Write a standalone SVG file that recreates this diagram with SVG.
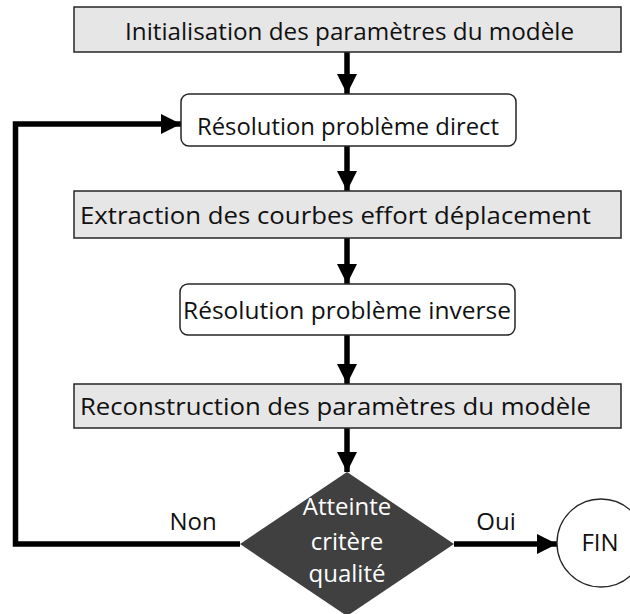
<svg xmlns="http://www.w3.org/2000/svg" width="630" height="614" viewBox="0 0 630 614">
<style>
.box{fill:#e6e6e6;stroke:#262626;stroke-width:1.5}
.rbox{fill:#ffffff;stroke:#262626;stroke-width:1.5}
.t{font-family:"Open Sans","Liberation Sans",sans-serif;font-size:24px;fill:#111;text-anchor:middle}
.w{fill:#ffffff}
.c{fill:none;stroke:#000;stroke-width:5.5}
</style>
<defs>
<marker id="ah" markerUnits="userSpaceOnUse" markerWidth="20" markerHeight="20" viewBox="0 0 20 20" refX="20" refY="10" orient="auto">
<path d="M0,0 L20,10 L0,20 Z" fill="#000"/>
</marker>
</defs>
<rect width="630" height="614" fill="#fff"/>
<g id="connectors">
<line class="c" x1="347" y1="52" x2="347" y2="94" marker-end="url(#ah)"/>
<line class="c" x1="347" y1="146" x2="347" y2="191" marker-end="url(#ah)"/>
<line class="c" x1="347" y1="238" x2="347" y2="284" marker-end="url(#ah)"/>
<line class="c" x1="347" y1="335" x2="347" y2="384" marker-end="url(#ah)"/>
<line class="c" x1="347" y1="428" x2="347" y2="472" marker-end="url(#ah)"/>
<polyline class="c" points="240,544 15.5,544 15.5,124 181,124" marker-end="url(#ah)"/>
<line class="c" x1="454" y1="544" x2="557" y2="544" marker-end="url(#ah)"/>
<text class="t" x="193" y="530">Non</text>
<text class="t" x="496" y="530">Oui</text>
</g>
<g id="n1">
<rect class="box" x="74" y="7" width="547" height="45"/>
<text class="t" x="349.5" y="40" textLength="449" lengthAdjust="spacingAndGlyphs">Initialisation des paramètres du modèle</text>
</g>
<g id="n2">
<rect class="rbox" x="181" y="94" width="335" height="52" rx="8"/>
<text class="t" x="348" y="135" textLength="302" lengthAdjust="spacingAndGlyphs">Résolution problème direct</text>
</g>
<g id="n3">
<rect class="box" x="74" y="191" width="547" height="47"/>
<text class="t" x="335.5" y="224" textLength="511" lengthAdjust="spacingAndGlyphs">Extraction des courbes effort déplacement</text>
</g>
<g id="n4">
<rect class="rbox" x="180" y="284" width="335" height="51" rx="8"/>
<text class="t" x="347" y="319" textLength="328" lengthAdjust="spacingAndGlyphs">Résolution problème inverse</text>
</g>
<g id="n5">
<rect class="box" x="74" y="384" width="547" height="44"/>
<text class="t" x="335.5" y="415" textLength="511" lengthAdjust="spacingAndGlyphs">Reconstruction des paramètres du modèle</text>
</g>
<g id="n6">
<polygon points="347,472 454,544 347,616 240,544" fill="#404040"/>
<text class="t w" x="347" y="515">Atteinte</text>
<text class="t w" x="347" y="550">critère</text>
<text class="t w" x="347" y="582">qualité</text>
</g>
<g id="n7">
<circle cx="601" cy="543" r="44" fill="#fff" stroke="#262626" stroke-width="1.3"/>
<text class="t" x="600" y="551">FIN</text>
</g>
</svg>
